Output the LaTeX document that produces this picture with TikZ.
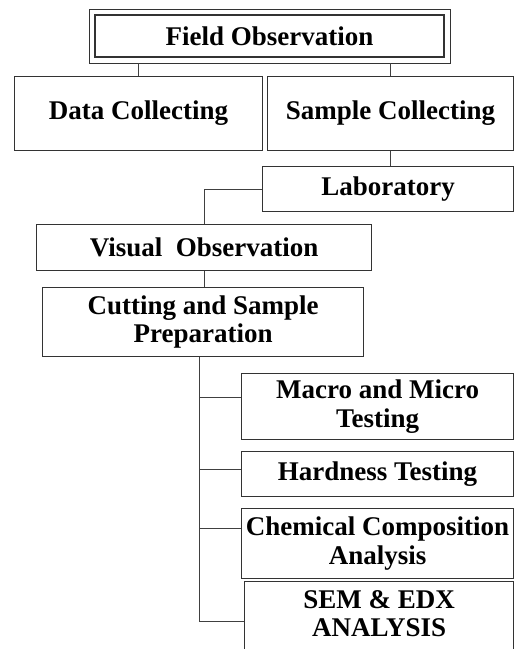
\documentclass[tikz,border=0pt]{standalone}
\usepackage{fontspec}
\setmainfont{Liberation Serif}
\usetikzlibrary{fit}

\tikzset{
  box/.style={draw=black!80, line width=1.1pt, anchor=north west, inner sep=0pt,
    align=center, font=\fontsize{27}{28.5}\selectfont\bfseries},
  link/.style={draw=black!75, line width=1.1pt}
}

\begin{document}
\begin{tikzpicture}[x=1pt,y=-1pt]
    % page frame
    \useasboundingbox (0,0) rectangle (514,649);
    \clip (0,0) rectangle (514,649);

    % draw top box
    \node[box, line width=2pt, minimum width=349pt, minimum height=42pt] (field) at (94,14) {Field Observation};
    \node[draw=black!80, line width=0.9pt, fit=(field), inner sep=5pt] (fieldframe) {};

    % draw boxes below
    \node[box, minimum width=248pt, minimum height=74pt] (data) at (14,76) {Data Collecting};
    \node[box, minimum width=246pt, minimum height=74pt] (sample) at (267,76) {Sample Collecting};
    \node[box, minimum width=251pt, minimum height=45pt] (lab) at (262,166) {Laboratory};
    \node[box, minimum width=335pt, minimum height=46pt] (visual) at (36,224) {Visual\ \ Observation};
    \node[box, minimum width=321pt, minimum height=69pt] (cutting) at (42,287) {Cutting and Sample\\Preparation};

    % draw test boxes
    \node[box, minimum width=272pt, minimum height=66pt] (macro) at (241,373) {Macro and Micro\\Testing};
    \node[box, minimum width=272pt, minimum height=45pt] (hardness) at (241,451) {Hardness Testing};
    \node[box, minimum width=272pt, minimum height=70pt] (chemical) at (241,508) {Chemical Composition\\Analysis};
    \node[box, minimum width=269pt, minimum height=80pt, text depth=16pt] (sem) at (244,581) {SEM \& EDX\\ANALYSIS};

    % draw links
    \draw[link] (fieldframe.south -| data.north) -- (data.north);
    \draw[link] (fieldframe.south -| sample.north) -- (sample.north);
    \draw[link] (sample.south) -- (sample.south |- lab.north);
    \draw[link] (lab.west) -| (visual.north);
    \draw[link] (visual.south) -- (visual.south |- cutting.north);
    \coordinate (trunk) at ([xshift=-4pt]cutting.south);
    \foreach \n/\s in {macro/9,hardness/5,chemical/15,sem/0}
      \draw[link] (trunk) |- ([yshift=\s pt]\n.west);
\end{tikzpicture}
\end{document}
